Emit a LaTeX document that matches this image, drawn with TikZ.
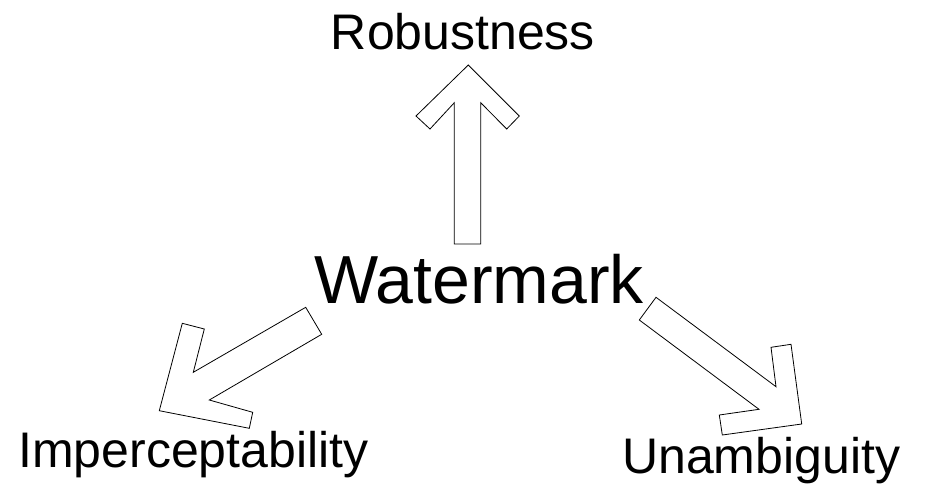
\documentclass[tikz,border=0pt]{standalone}
\usepackage{fontspec}
\setmainfont{Liberation Sans}

\tikzset{
    goaltext/.style={inner sep=0pt, font=\fontsize{50}{50}\selectfont},
    maintext/.style={inner sep=0pt, font=\fontsize{68}{68}\selectfont},
    hollowarrow/.style={draw=black, line width=0.8pt, fill=white, line join=miter}
}

\begin{document}
\begin{tikzpicture}[x=1pt,y=-1pt]
    \useasboundingbox (0,0) rectangle (926,485);
    % texts
    \node[maintext, anchor=base] (wm) at (479,303) {Watermark};
    \node[goaltext, anchor=base] (rob) at (463,49.5) {Robustness};
    \node[goaltext, anchor=base west] (imp) at (18,467) {Imperceptability};
    \node[goaltext, anchor=base west] (una) at (622,473) {Unambiguity};
    % up
    \draw[hollowarrow] (468.3,65) -- (519.3,116) -- (506.7,129) -- (480.7,102.7)
        -- (480.7,244) -- (454.3,244) -- (454.3,102.7) -- (430,129) -- (416,116) -- cycle;
    % down left
    \draw[hollowarrow] (305.7,307.3) -- (321.7,334.3) -- (209.3,400) -- (252.7,412.3)
        -- (249.3,428.3) -- (159.3,410.7) -- (182.3,323.3) -- (204.3,329) -- (193.3,372.3) -- cycle;
    % down right
    \draw[hollowarrow] (656,297.3) -- (776,386.7) -- (771,347.3) -- (791,344.3)
        -- (801.7,424) -- (722.3,435) -- (719.3,415) -- (759,409.3) -- (639.3,320) -- cycle;
\end{tikzpicture}
\end{document}
